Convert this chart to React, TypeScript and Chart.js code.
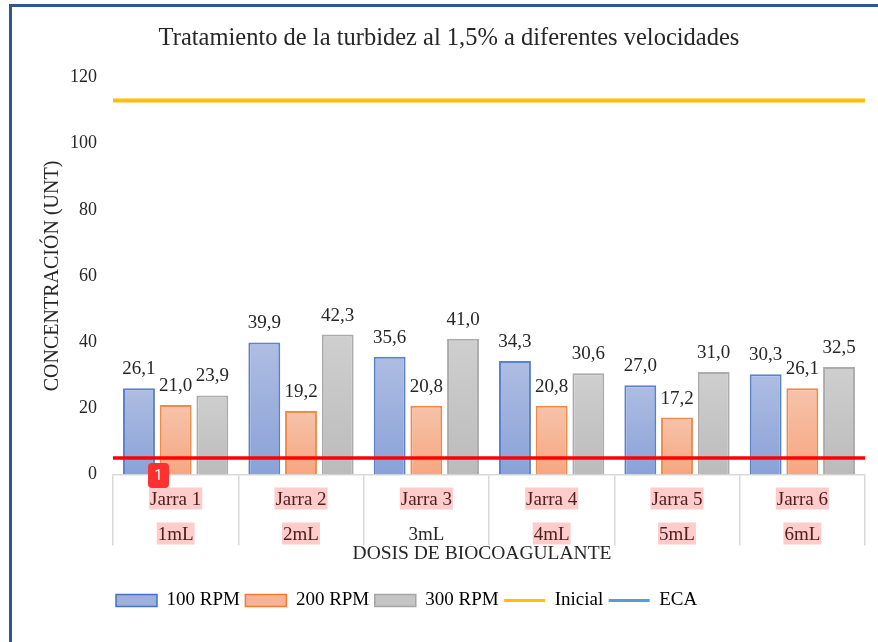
import React, { useEffect, useRef } from "react";
import { Chart, registerables } from "chart.js";

Chart.register(...registerables);

const TITLE = "Tratamiento de la turbidez al 1,5% a diferentes velocidades";
const X_TITLE = "DOSIS DE BIOCOAGULANTE";
const Y_TITLE = "CONCENTRACIÓN (UNT)";
const jarras = ["Jarra 1", "Jarra 2", "Jarra 3", "Jarra 4", "Jarra 5", "Jarra 6"];
const dosis = ["1mL", "2mL", "3mL", "4mL", "5mL", "6mL"];
const rpm100 = [26.1, 39.9, 35.6, 34.3, 27.0, 30.3];
const rpm200 = [21.0, 19.2, 20.8, 20.8, 17.2, 26.1];
const rpm300 = [23.9, 42.3, 41.0, 30.6, 31.0, 32.5];
const inicial = 113;
const eca = 5;
const yMax = 120;
const yStep = 20;

const FONT = "'Liberation Serif', serif";
const TEXT = "#262626";
const SPACING = "0.35px";

function barFill(top: string, bottom: string) {
  return (c: any) => {
    const { chart, raw } = c;
    const sy = chart.scales?.y;
    if (!sy || raw == null) return bottom;
    const g = chart.ctx.createLinearGradient(0, sy.getPixelForValue(raw), 0, sy.getPixelForValue(0));
    g.addColorStop(0, top);
    g.addColorStop(1, bottom);
    return g;
  };
}

// full-width reference line: the two ends of the category band
function span(value: number) {
  return [{ x: -0.5, y: value }, { x: jarras.length - 0.5, y: value }];
}

const overlay = {
  id: "overlay",
  beforeInit(chart: any) {
    chart.ctx.letterSpacing = SPACING;
  },
  afterLayout(chart: any) {
    if (chart.legend) chart.legend.left -= 2.5;
  },
  afterDatasetsDraw(chart: any) {
    const { ctx, scales } = chart;
    ctx.save();
    ctx.font = `19px ${FONT}`;
    ctx.fillStyle = TEXT;
    ctx.textAlign = "center";
    ctx.textBaseline = "middle";
    [0, 1, 2].forEach((d) => {
      const values = chart.data.datasets[d].data as number[];
      chart.getDatasetMeta(d).data.forEach((el: any, i: number) => {
        ctx.fillText(values[i].toFixed(1).replace(".", ","), el.x, el.y - 19);
      });
    });
    ctx.font = `19.5px ${FONT}`;
    ctx.fillText(X_TITLE, scales.x.left + scales.x.width / 2 - 7, scales.x.bottom - 32);
    ctx.restore();
  },
  afterDraw(chart: any) {
    const { ctx, scales } = chart;
    const sx = scales.x;
    ctx.save();
    ctx.font = `19px ${FONT}`;
    ctx.fillStyle = "rgba(255,0,0,0.2)";
    jarras.forEach((name, i) => {
      const cx = sx.getPixelForTick(i);
      const w1 = ctx.measureText(name).width + 2;
      ctx.fillRect(cx - w1 / 2, sx.top + 13, w1, 22);
      if (i !== 2) {
        const w2 = ctx.measureText(dosis[i]).width + 2;
        ctx.fillRect(cx - w2 / 2, sx.top + 48, w2, 22);
      }
    });
    // numbered marker present on the reference picture
    ctx.fillStyle = "#FF3030";
    ctx.beginPath();
    ctx.roundRect(148, 463, 21, 25, 4);
    ctx.fill();
    ctx.fillStyle = "#FFFFFF";
    ctx.font = "14px Roboto, sans-serif";
    ctx.letterSpacing = "0px";
    ctx.textAlign = "center";
    ctx.textBaseline = "middle";
    ctx.fillText("1", 158.5, 476);
    ctx.restore();
  },
};

export default function App() {
  const ref = useRef<HTMLCanvasElement>(null);
  useEffect(() => {
    const chart = new Chart(ref.current!, {
      type: "bar",
      plugins: [overlay],
      data: {
        labels: jarras.map((j, i) => [j, dosis[i]]),
        datasets: [
          { label: "100 RPM", data: rpm100, order: 1, backgroundColor: barFill("#AEBDE2", "#8AA2D8"), borderColor: "#5B80CC", borderWidth: 2 },
          { label: "200 RPM", data: rpm200, order: 1, backgroundColor: barFill("#F6C3AA", "#F7A680"), borderColor: "#EE8B48", borderWidth: 2 },
          { label: "300 RPM", data: rpm300, order: 1, backgroundColor: barFill("#CFCFCF", "#BBBBBB"), borderColor: "#ABABAB", borderWidth: 2 },
          { type: "line", label: "Inicial", parsing: false, normalized: true, order: 0, data: span(inicial), borderColor: "#FFC000", borderWidth: 4, pointRadius: 0 },
          { type: "line", label: "ECA", parsing: false, normalized: true, order: 0, data: span(eca), borderColor: "#FF0000", borderWidth: 3.5, pointRadius: 0 },
        ] as any,
      },
      options: {
        responsive: false,
        animation: false,
        layout: { padding: { left: 33, right: 13, top: 0, bottom: 22 } },
        datasets: { bar: { categoryPercentage: 0.878, barPercentage: 0.87 } },
        scales: {
          x: {
            type: "category",
            grid: { drawOnChartArea: false, offset: true, tickLength: 71, color: "#D9D9D9", lineWidth: 1.5 },
            border: { display: true, color: "#D9D9D9", width: 1.5 },
            ticks: { autoSkip: false, maxRotation: 0, minRotation: 0, padding: -63, color: TEXT, font: { family: FONT, size: 19, lineHeight: 35 / 19 } },
            afterFit(s: any) { s.height = 111; },
          },
          y: {
            min: 0,
            max: yMax,
            grid: { display: false, drawTicks: false },
            border: { display: false },
            ticks: { stepSize: yStep, padding: 16, color: TEXT, font: { family: FONT, size: 18 } },
            title: { display: true, text: Y_TITLE, color: TEXT, font: { family: FONT, size: 20 }, padding: { top: 8, bottom: 0 } },
            afterFit(s: any) { s.width = 80; },
          },
        },
        plugins: {
          title: { display: true, text: TITLE, color: TEXT, font: { family: FONT, size: 24.5, weight: "normal" }, padding: { top: 24, bottom: 24 } },
          tooltip: { enabled: false },
          legend: {
            position: "bottom",
            align: "start",
            fullSize: false,
            labels: {
              color: TEXT,
              font: { family: FONT, size: 19 },
              padding: 5.5,
              usePointStyle: true,
              pointStyleWidth: 41,
              boxHeight: 12,
              generateLabels() {
                return [
                  { text: "100 RPM", fillStyle: "#9DB0DE", strokeStyle: "#4472C4", lineWidth: 1.5, pointStyle: "rect", datasetIndex: 0 },
                  { text: "200 RPM", fillStyle: "#F6B495", strokeStyle: "#ED7D31", lineWidth: 1.5, pointStyle: "rect", datasetIndex: 1 },
                  { text: "300 RPM", fillStyle: "#C5C5C5", strokeStyle: "#A5A5A5", lineWidth: 1.5, pointStyle: "rect", datasetIndex: 2 },
                  { text: "Inicial", fillStyle: "#FFC000", strokeStyle: "#FFC000", lineWidth: 3, pointStyle: "line", datasetIndex: 3 },
                  { text: "ECA", fillStyle: "#5B9BD5", strokeStyle: "#5B9BD5", lineWidth: 3, pointStyle: "line", datasetIndex: 4 },
                ] as any;
              },
            },
          },
        },
      } as any,
    });
    return () => chart.destroy();
  }, []);
  return (
    <div style={{ position: "absolute", left: 0, top: 0, width: 878, height: 642, overflow: "hidden", background: "#fff" }}>
      <canvas ref={ref} width={878} height={642} style={{ display: "block" }} />
      <div style={{ position: "absolute", left: 9, top: 4, right: -4, bottom: -4, borderLeft: "3px solid #2F5597", borderTop: "3px solid #2F5597", pointerEvents: "none" }} />
    </div>
  );
}
